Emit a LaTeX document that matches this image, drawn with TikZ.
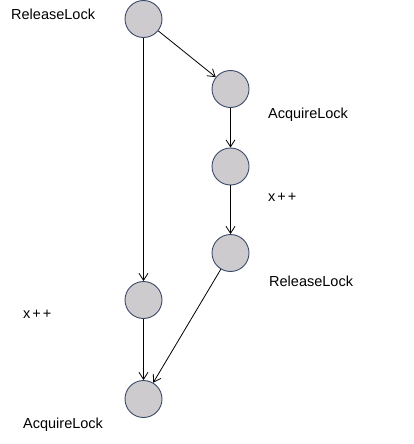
\documentclass[tikz,border=0pt]{standalone}
\usepackage{fontspec}
\setmainfont{Liberation Sans}
\usetikzlibrary{arrows.meta}
\definecolor{nodefill}{HTML}{CDCBCE}
\definecolor{nodeline}{HTML}{3B4A6B}
\begin{document}
\begin{tikzpicture}[x=1pt,y=-1pt,
  state/.style={circle,draw=nodeline,fill=nodefill,line width=0.9pt,minimum size=37pt,inner sep=0pt},
  lbl/.style={font=\fontsize{14.5}{16}\selectfont,anchor=west,inner sep=0pt},
  conn/.style={-{Straight Barb[length=7pt,width=9pt,line width=0.8pt]},line width=0.8pt,black}]
\useasboundingbox (0,0) rectangle (414,444);
\node[state] (a) at (143.5,19) {};
\node[state] (b) at (230.5,89) {};
\node[state] (c) at (230.5,166.5) {};
\node[state] (d) at (230.5,253) {};
\node[state] (e) at (143.5,300) {};
\node[state] (f) at (143.5,399) {};
\node[lbl] (la) at (11,14) {ReleaseLock};
\node[lbl] (lb) at (268,115) {AcquireLock};
\node[lbl] (lc) at (268,197) {x\kern2pt+\kern2pt+};
\node[lbl] (ld) at (269,281) {ReleaseLock};
\node[lbl] (le) at (23,314) {x\kern2pt+\kern2pt+};
\node[lbl] (lf) at (23,425) {AcquireLock};
\draw[conn] (a) -- (b);
\draw[conn] (a) -- (e);
\draw[conn] (b) -- (c);
\draw[conn] (c) -- (d);
\draw[conn] (d) -- (f);
\draw[conn] (e) -- (f);
\end{tikzpicture}
\end{document}
